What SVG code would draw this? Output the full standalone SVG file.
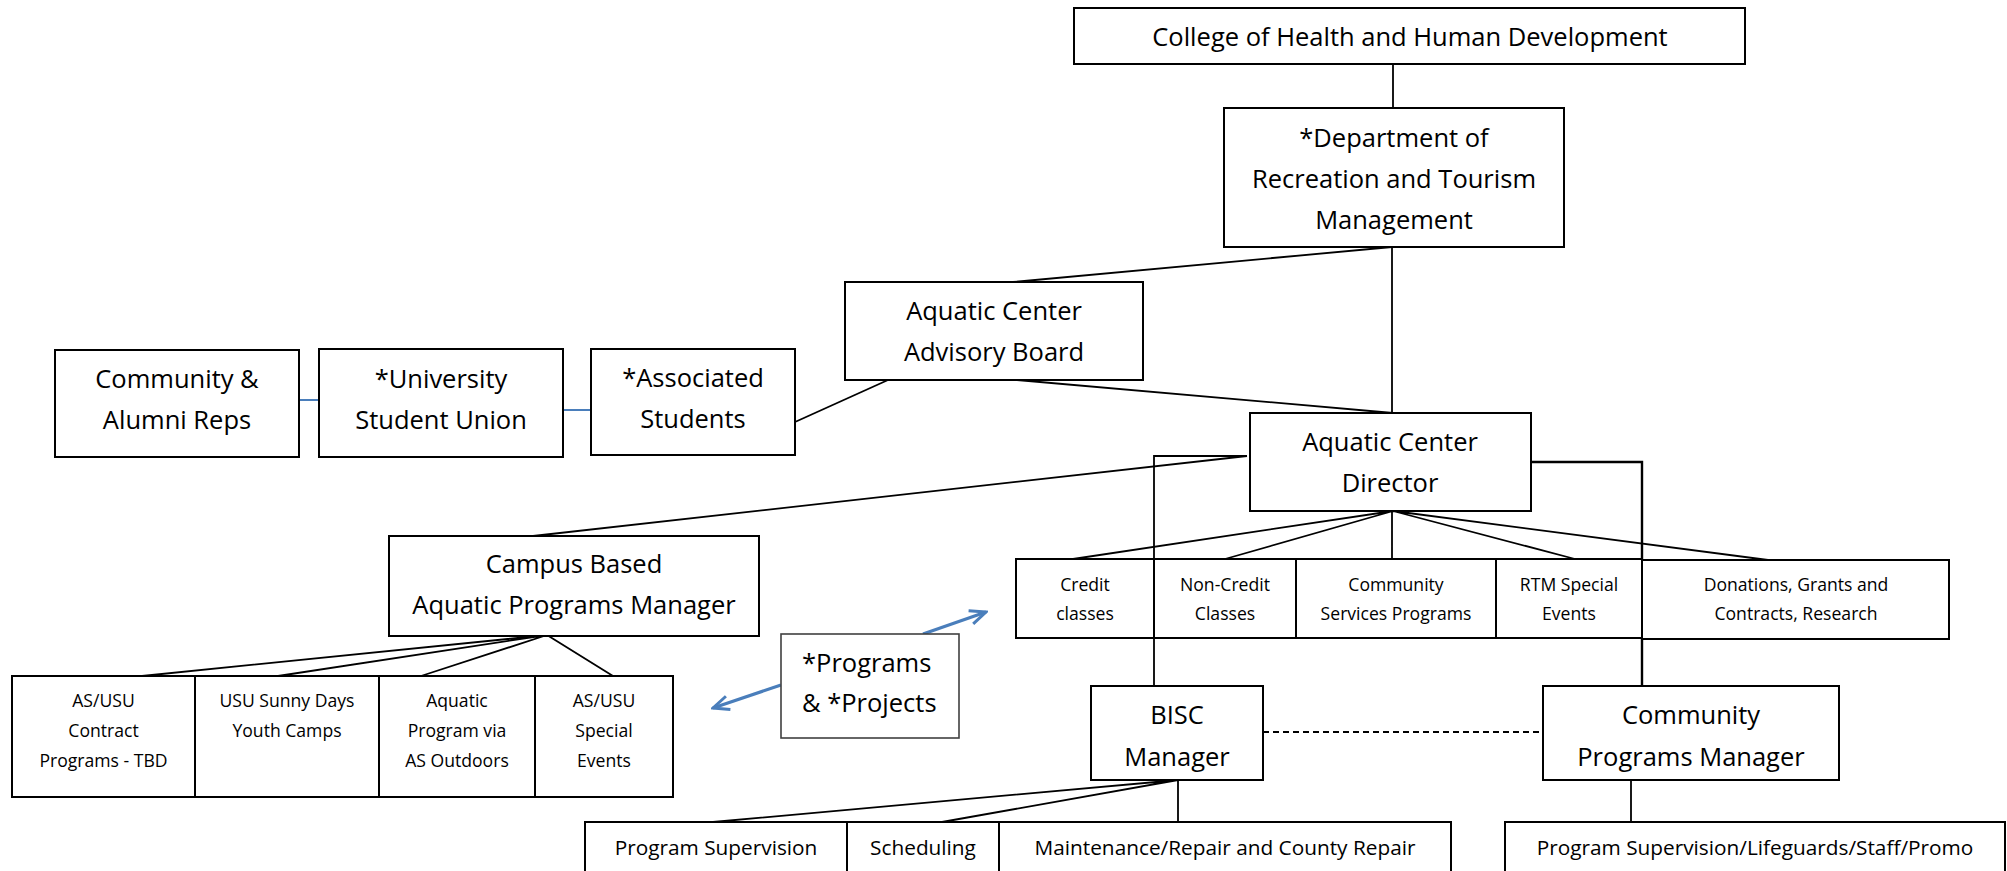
<svg xmlns="http://www.w3.org/2000/svg" width="2007" height="871" viewBox="0 0 2007 871">
<defs>
<style>
.box{fill:#fff;stroke:#000;stroke-width:2}
.gbox{fill:#fff;stroke:#404040;stroke-width:1.6}
.ln{fill:none;stroke:#000;stroke-width:1.8}
.bl{fill:none;stroke:#4A7EBB;stroke-width:2}
.ar{fill:none;stroke:#4A7EBB;stroke-width:3.2}
.dash{fill:none;stroke:#000;stroke-width:2;stroke-dasharray:6 4}
text{font-family:"Open Sans","Liberation Sans",sans-serif;fill:#000;text-anchor:middle}
.L{font-size:25.5px}
.M{font-size:20.8px}
.S{font-size:17.6px}
</style>
<marker id="oa" markerUnits="userSpaceOnUse" viewBox="0 0 20 20" refX="18" refY="10" markerWidth="20" markerHeight="20" orient="auto">
<path d="M2,3 L18,10 L2,17" fill="none" stroke="#4A7EBB" stroke-width="3"/>
</marker>
</defs>
<rect width="2007" height="871" fill="#fff"/>
<g id="connectors">
<path class="ln" d="M1393,64 V108"/>
<path class="ln" d="M1392,247 L1013,282"/>
<path class="ln" d="M1392,247 V413"/>
<path class="ln" d="M1017,380 L1393,413"/>
<path class="ln" d="M795,422 L888,380"/>
<path class="bl" d="M291,400 H319"/>
<path class="bl" d="M563,410 H591"/>
<path class="ln" d="M1247,456 L533,536"/>
<path class="ln" d="M1247,456 H1154 V686"/>
<path class="ln" d="M1531,462 H1642 V686" style="stroke-width:2.4"/>
<path class="ln" d="M1393,511 L1073,559 M1393,511 L1225,559 M1392,511 V559 M1393,511 L1575,559 M1393,511 L1768,560"/>
<path class="ln" d="M547,635 L142,676 M547,635 L278,676 M547,635 L421,676 M547,635 L613,676"/>
<path class="dash" d="M1263,732 H1543"/>
<path class="ln" d="M1178,780 L713,822 M1178,780 L942,822 M1178,780 V822"/>
<path class="ln" d="M1631,780 V822"/>
<path class="ar" d="M923,634 L986,612" marker-end="url(#oa)"/>
<path class="ar" d="M781,685 L713,708" marker-end="url(#oa)"/>
</g>
<g id="college"><rect class="box" x="1074" y="8" width="671" height="56"/><text class="L" x="1410" y="46">College of Health and Human Development</text></g>
<g id="department"><rect class="box" x="1224" y="108" width="340" height="139"/><text class="L" x="1394" y="147">*Department of</text><text class="L" x="1394" y="188">Recreation and Tourism</text><text class="L" x="1394" y="229">Management</text></g>
<g id="advisory"><rect class="box" x="845" y="282" width="298" height="98"/><text class="L" x="994" y="320">Aquatic Center</text><text class="L" x="994" y="361">Advisory Board</text></g>
<g id="community-alumni"><rect class="box" x="55" y="350" width="244" height="107"/><text class="L" x="177" y="388">Community &amp;</text><text class="L" x="177" y="429">Alumni Reps</text></g>
<g id="usu"><rect class="box" x="319" y="349" width="244" height="108"/><text class="L" x="441" y="388">*University</text><text class="L" x="441" y="429">Student Union</text></g>
<g id="associated"><rect class="box" x="591" y="349" width="204" height="106"/><text class="L" x="693" y="387">*Associated</text><text class="L" x="693" y="428">Students</text></g>
<g id="director"><rect class="box" x="1250" y="413" width="281" height="98"/><text class="L" x="1390" y="451">Aquatic Center</text><text class="L" x="1390" y="492">Director</text></g>
<g id="campus"><rect class="box" x="389" y="536" width="370" height="100"/><text class="L" x="574" y="573">Campus Based</text><text class="L" x="574" y="614">Aquatic Programs Manager</text></g>
<g id="contract"><rect class="box" x="12" y="676" width="183" height="121"/><text class="S" x="103.5" y="707">AS/USU</text><text class="S" x="103.5" y="737">Contract</text><text class="S" x="103.5" y="767">Programs - TBD</text></g>
<g id="sunny-days"><rect class="box" x="195" y="676" width="184" height="121"/><text class="S" x="287" y="707">USU Sunny Days</text><text class="S" x="287" y="737">Youth Camps</text></g>
<g id="as-outdoors"><rect class="box" x="379" y="676" width="156" height="121"/><text class="S" x="457" y="707">Aquatic</text><text class="S" x="457" y="737">Program via</text><text class="S" x="457" y="767">AS Outdoors</text></g>
<g id="special-events"><rect class="box" x="535" y="676" width="138" height="121"/><text class="S" x="604" y="707">AS/USU</text><text class="S" x="604" y="737">Special</text><text class="S" x="604" y="767">Events</text></g>
<g id="programs-projects"><rect class="gbox" x="781" y="634" width="178" height="104"/><text class="L" x="802" y="672" style="text-anchor:start">*Programs</text><text class="L" x="802" y="712" style="text-anchor:start">&amp; *Projects</text></g>
<g id="credit"><rect class="box" x="1016" y="559" width="138" height="79"/><text class="S" x="1085" y="591">Credit</text><text class="S" x="1085" y="620">classes</text></g>
<g id="non-credit"><rect class="box" x="1154" y="559" width="142" height="79"/><text class="S" x="1225" y="591">Non-Credit</text><text class="S" x="1225" y="620">Classes</text></g>
<g id="community-services"><rect class="box" x="1296" y="559" width="200" height="79"/><text class="S" x="1396" y="591">Community</text><text class="S" x="1396" y="620">Services Programs</text></g>
<g id="rtm-events"><rect class="box" x="1496" y="559" width="146" height="79"/><text class="S" x="1569" y="591">RTM Special</text><text class="S" x="1569" y="620">Events</text></g>
<g id="donations"><rect class="box" x="1642" y="560" width="307" height="79"/><text class="S" x="1796" y="591">Donations, Grants and</text><text class="S" x="1796" y="620">Contracts, Research</text></g>
<g id="bisc"><rect class="box" x="1091" y="686" width="172" height="94"/><text class="L" x="1177" y="724">BISC</text><text class="L" x="1177" y="766">Manager</text></g>
<g id="community-programs"><rect class="box" x="1543" y="686" width="296" height="94"/><text class="L" x="1691" y="724">Community</text><text class="L" x="1691" y="766">Programs Manager</text></g>
<g id="program-supervision"><rect class="box" x="585" y="822" width="262" height="80"/><text class="M" x="716" y="855">Program Supervision</text></g>
<g id="scheduling"><rect class="box" x="847" y="822" width="152" height="80"/><text class="M" x="923" y="855">Scheduling</text></g>
<g id="maintenance"><rect class="box" x="999" y="822" width="452" height="80"/><text class="M" x="1225" y="855">Maintenance/Repair and County Repair</text></g>
<g id="cp-supervision"><rect class="box" x="1505" y="822" width="500" height="80"/><text class="M" x="1755" y="855">Program Supervision/Lifeguards/Staff/Promo</text></g>
</svg>
